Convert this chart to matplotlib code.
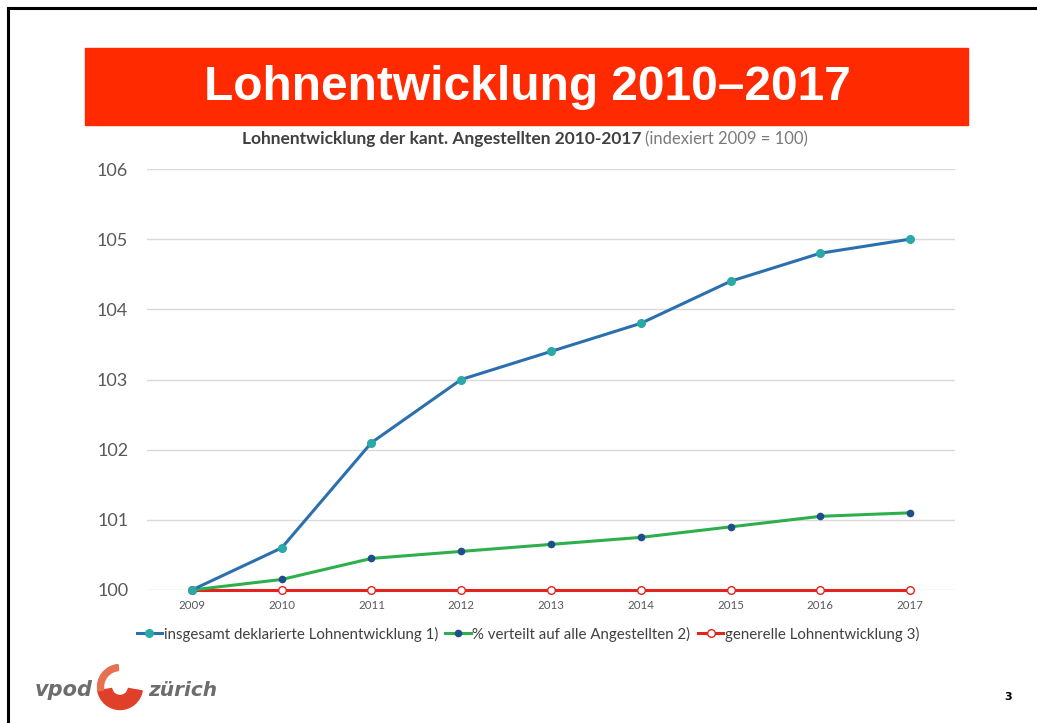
import matplotlib
matplotlib.use("Agg")
import matplotlib.pyplot as plt
from matplotlib.patches import Rectangle, Wedge
from matplotlib.lines import Line2D

years = [2009, 2010, 2011, 2012, 2013, 2014, 2015, 2016, 2017]
insgesamt = [100.0, 100.6, 102.1, 103.0, 103.4, 103.8, 104.4, 104.8, 105.0]
verteilt = [100.0, 100.15, 100.45, 100.55, 100.65, 100.75, 100.9, 101.05, 101.1]
generell = [100.0, 100.0, 100.0, 100.0, 100.0, 100.0, 100.0, 100.0, 100.0]
labels = ["insgesamt deklarierte Lohnentwicklung 1)",
          "% verteilt auf alle Angestellten 2)",
          "generelle Lohnentwicklung 3)"]
yticks = [100, 101, 102, 103, 104, 105, 106]

W, H = 1037, 723
fig = plt.figure(figsize=(W / 100, H / 100), dpi=100)
fig.patch.set_facecolor("white")

def fx(px):
    return px / W

def fy(py):
    return 1 - py / H

# slide border (top and left)
fig.add_artist(Line2D([fx(8), fx(1036)], [fy(8), fy(8)], color="black", lw=2.2))
fig.add_artist(Line2D([fx(8), fx(8)], [fy(8), fy(723)], color="black", lw=2.2))

# red banner
fig.add_artist(Rectangle((fx(85), fy(125)), fx(968) - fx(85), fy(48) - fy(125),
                         transform=fig.transFigure, color="#FF2A00", zorder=1))
fig.text(fx(527), fy(88), "Lohnentwicklung 2010\u20132017", color="white",
         fontsize=34.5, fontweight="bold", family="Liberation Sans",
         ha="center", va="center", zorder=2)

# subtitle
fig.text(fx(641), fy(139), "Lohnentwicklung der kant. Angestellten 2010-2017",
         color="#404040", fontsize=12.5, fontweight="bold", family="Lato",
         ha="right", va="center")
fig.text(fx(645), fy(139), "(indexiert 2009 = 100)", color="#7a7a7a",
         fontsize=12, family="Lato", ha="left", va="center")

ax = fig.add_axes([fx(147), fy(590), fx(955) - fx(147), fy(169) - fy(590)])
ax.set_xlim(2008.5, 2017.5)
ax.set_ylim(100, 106)
ax.set_yticks(yticks)
ax.set_xticks(years)
ax.grid(axis="y", color="#d9d9d9", lw=1)
ax.set_axisbelow(True)
for s in ax.spines.values():
    s.set_visible(False)
ax.tick_params(axis="both", length=0)
ax.tick_params(axis="y", labelsize=13, labelcolor="#595959", pad=13.5)
ax.tick_params(axis="x", labelsize=8.3, labelcolor="#595959", pad=7)
for lab in ax.get_yticklabels() + ax.get_xticklabels():
    lab.set_family("Lato")

l3, = ax.plot(years, generell, color="#E3231E", lw=2.2, marker="o", ms=5.5,
              mfc="white", mec="#E3231E", mew=1, label=labels[2], zorder=3)
l2, = ax.plot(years, verteilt, color="#2DB04B", lw=2.2, marker="o", ms=4.5,
              mfc="#1F4E8C", mec="#1F4E8C", label=labels[1], zorder=4)
l1, = ax.plot(years, insgesamt, color="#2C6FAE", lw=2.2, marker="o", ms=5.5,
              mfc="#2BA8A8", mec="#2BA8A8", label=labels[0], zorder=5)
for l in (l1, l2, l3):
    l.set_clip_on(False)

leg = fig.legend(handles=[l1, l2, l3], loc="center", bbox_to_anchor=(fx(528), fy(634)),
                 ncol=3, frameon=False, handlelength=1.7,
                 handletextpad=0.1, columnspacing=0.5,
                 prop={"family": "Lato", "size": 10.8})
for t in leg.get_texts():
    t.set_color("#404040")

# logo
fig.text(fx(35), fy(690), "vpod", color="#6d6d6d", fontsize=15, fontstyle="italic",
         fontweight="bold", family="DejaVu Sans", ha="left", va="center")
lax = fig.add_axes([fx(93), fy(712), fx(147) - fx(93), fy(662) - fy(712)])
lax.set_xlim(0, 1)
lax.set_ylim(0, 1)
lax.set_aspect("equal")
lax.axis("off")
lax.add_patch(Wedge((0.5, 0.5), 0.45, 190, 350, width=0.28, color="#E0402A"))
lax.add_patch(Wedge((0.5, 0.5), 0.45, 95, 190, width=0.12, color="#E87050"))
fig.text(fx(148), fy(690), "z\u00fcrich", color="#6d6d6d", fontsize=14.5,
         fontstyle="italic", fontweight="bold", family="DejaVu Sans",
         ha="left", va="center")

fig.text(fx(1008), fy(697), "3", color="black", fontsize=8, fontweight="bold",
         ha="center", va="center")

fig.savefig("out.png", dpi=100)
